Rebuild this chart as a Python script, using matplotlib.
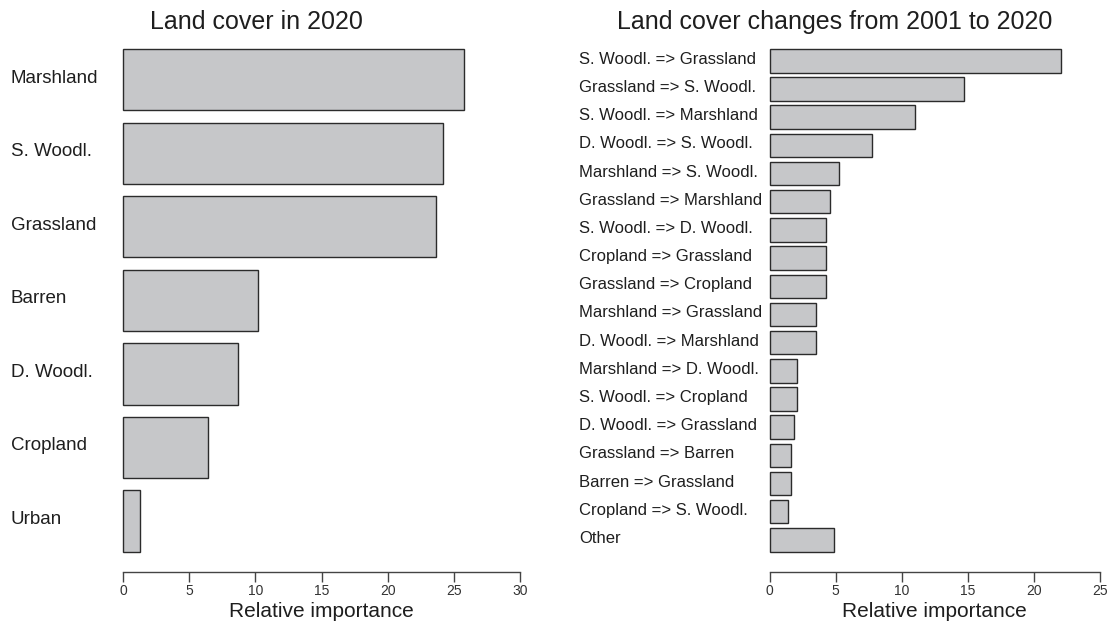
import numpy as np
import matplotlib.pyplot as plt

plt.rcParams['font.family'] = ['Liberation Sans', 'DejaVu Sans']

# land cover shares in 2020 (top to bottom)
cover_names = ["Marshland", "S. Woodl.", "Grassland", "Barren", "D. Woodl.", "Cropland", "Urban"]
cover_vals = [25.77, 24.16, 23.66, 10.17, 8.69, 6.42, 1.26]

# land cover transitions 2001-2020 (top to bottom)
change_names = ["S. Woodl. => Grassland", "Grassland => S. Woodl.", "S. Woodl. => Marshland",
                "D. Woodl. => S. Woodl.", "Marshland => S. Woodl.", "Grassland => Marshland",
                "S. Woodl. => D. Woodl.", "Cropland => Grassland", "Grassland => Cropland",
                "Marshland => Grassland", "D. Woodl. => Marshland", "Marshland => D. Woodl.",
                "S. Woodl. => Cropland", "D. Woodl. => Grassland", "Grassland => Barren",
                "Barren => Grassland", "Cropland => S. Woodl.", "Other"]
change_vals = [22.07, 14.73, 10.97, 7.77, 5.22, 4.59, 4.29, 4.24, 4.24, 3.53,
               3.48, 2.04, 2.04, 1.87, 1.64, 1.61, 1.39, 4.89]

cover_ticks = [0, 5, 10, 15, 20, 25, 30]
change_ticks = [0, 5, 10, 15, 20, 25]

W, H = 1113, 628
fig = plt.figure(figsize=(W / 100, H / 100), dpi=100)
fill = "#c6c7c9"
edge = "#2b2b2b"
txt = "#1e1e1e"


def panel(x0, x1, names, vals, ticks, label_x, label_size, title, title_x):
    top, bot = 29, 571.7
    ax = fig.add_axes([x0 / W, 1 - bot / H, (x1 - x0) / W, (bot - top) / H])
    n = len(vals)
    # bars of width 1 with 0.2 gaps, like a base R barplot
    pos = 0.7 + 1.2 * np.arange(n)
    ax.barh(pos, vals, height=1.0, color=fill, edgecolor=edge, linewidth=1.0, clip_on=False)
    lo, hi = 0.2, 1.2 * n
    pad = 0.04 * (hi - lo)
    ax.set_ylim(hi + pad, lo - pad)
    ax.set_xlim(ticks[0], ticks[-1])
    for s in ["top", "right", "left"]:
        ax.spines[s].set_visible(False)
    ax.spines["bottom"].set_color("#444444")
    ax.spines["bottom"].set_linewidth(1.0)
    ax.set_yticks([])
    ax.set_xticks(ticks)
    ax.tick_params(axis="x", length=7, width=1.0, color="#444444", labelsize=10,
                   labelcolor="#333333", pad=2)
    ax.set_xlabel("Relative importance", fontsize=15, color=txt, labelpad=3)
    for p, name in zip(pos, names):
        y = ax.transData.transform((0, p))[1]
        fig.text(label_x / W, (y + 1.5) / H, name, ha="left", va="center",
                 fontsize=label_size, color=txt)
    fig.text(title_x / W, 1 - 22 / H, title, ha="center", va="center", fontsize=18, color=txt)
    return ax


panel(123, 520, cover_names, cover_vals, cover_ticks, 11, 13.5, "Land cover in 2020", 256)
panel(769.7, 1100, change_names, change_vals, change_ticks, 579, 12,
      "Land cover changes from 2001 to 2020", 835)

fig.savefig("out.png", dpi=100)
